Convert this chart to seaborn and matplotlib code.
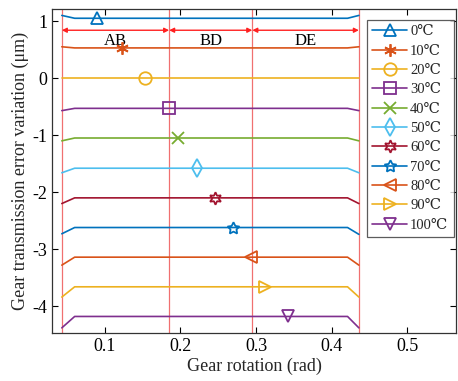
import numpy as np
import pandas as pd
import matplotlib
matplotlib.use("Agg")
import matplotlib.pyplot as plt
import seaborn as sns
from matplotlib.lines import Line2D

sns.set_theme(style="white")
plt.rcParams['font.family'] = ['Liberation Serif', 'DejaVu Serif', 'DejaVu Sans']
plt.rcParams['mathtext.fontset'] = 'stix'

labels = ["0℃", "10℃", "20℃", "30℃", "40℃", "50℃", "60℃", "70℃", "80℃", "90℃", "100℃"]
x_pts = [0.043, 0.060, 0.421, 0.436]
start_vals = [1.10, 0.55, 0.0, -0.57, -1.10, -1.66, -2.20, -2.73, -3.28, -3.84, -4.38]
flat_vals = [1.05, 0.53, 0.0, -0.53, -1.05, -1.58, -2.10, -2.62, -3.14, -3.66, -4.18]
end_vals = [1.10, 0.55, 0.0, -0.57, -1.10, -1.66, -2.20, -2.74, -3.28, -3.84, -4.38]
marker_x = [0.090, 0.122, 0.153, 0.185, 0.197, 0.222, 0.245, 0.269, 0.293, 0.312, 0.342]
colors = ["#0072BD", "#D95319", "#EDB120", "#7E2F8E", "#77AC30", "#4DBEEE",
          "#A2142F", "#0072BD", "#D95319", "#EDB120", "#7E2F8E"]
markers = ["^", (6, 2, 0), "o", "s", "x", "d", (6, 1, 0), (5, 1, 0), "<", ">", "v"]
boundaries = [0.043, 0.185, 0.295, 0.436]
segment_labels = ["AB", "BD", "DE"]

fig = plt.figure(figsize=(4.58, 3.81), dpi=100)
ax = fig.add_axes([0.1135, 0.126, 0.883, 0.85])

rows = []
for lab, s, f, e in zip(labels, start_vals, flat_vals, end_vals):
    for xv, yv in zip(x_pts, [s, f, f, e]):
        rows.append({"x": xv, "y": yv, "T": lab})
df = pd.DataFrame(rows)
sns.lineplot(data=df, x="x", y="y", hue="T", palette=dict(zip(labels, colors)),
             ax=ax, legend=False, linewidth=1.2, sort=False, estimator=None)

handles = []
for lab, mx, f, c, m in zip(labels, marker_x, flat_vals, colors, markers):
    ax.plot([mx], [f], marker=m, color=c, markersize=9, markerfacecolor='none',
            markeredgewidth=1.3, linestyle='none', zorder=4)
    handles.append(Line2D([0], [0], color=c, marker=m, markersize=9,
                          markerfacecolor='none', markeredgewidth=1.3, linewidth=1.2))

for b in boundaries:
    ax.axvline(b, color="#F07070", linewidth=0.9, zorder=1)

ay = 0.84
for i, lab in enumerate(segment_labels):
    x0, x1 = boundaries[i], boundaries[i + 1]
    ax.annotate("", xy=(x1, ay), xytext=(x0, ay),
                arrowprops=dict(arrowstyle="<|-|>", color="#FF2020", lw=1.0,
                                mutation_scale=7, shrinkA=0, shrinkB=0))
    ax.text((x0 + x1) / 2, 0.66, lab, ha="center", va="center", fontsize=12, color="black")

ax.set_xlim(0.03, 0.565)
ax.set_ylim(-4.47, 1.21)
ax.set_xticks([0.1, 0.2, 0.3, 0.4, 0.5])
ax.set_xticklabels(["0.1", "0.2", "0.3", "0.4", "0.5"])
ax.set_yticks([1, 0, -1, -2, -3, -4])
ax.set_yticklabels(["1", "0", "-1", "-2", "-3", "-4"])
ax.tick_params(direction="in", length=4, width=0.8, labelsize=13, top=True, right=True,
               bottom=True, left=True, colors="black")
for sp in ax.spines.values():
    sp.set_color("#333333")
    sp.set_linewidth(0.9)
ax.set_xlabel("Gear rotation (rad)", fontsize=13, labelpad=2)
ax.set_ylabel("Gear transmission error variation (μm)", fontsize=13, labelpad=2)

leg = ax.legend(handles, labels, loc="upper right", bbox_to_anchor=(0.993, 0.966),
                fontsize=10.5, frameon=True, fancybox=False, edgecolor="#333333",
                handlelength=2.4, handletextpad=0.2, labelspacing=0.42, borderpad=0.35,
                borderaxespad=0.0)
leg.get_frame().set_linewidth(0.9)

fig.savefig("out.png", dpi=100)
